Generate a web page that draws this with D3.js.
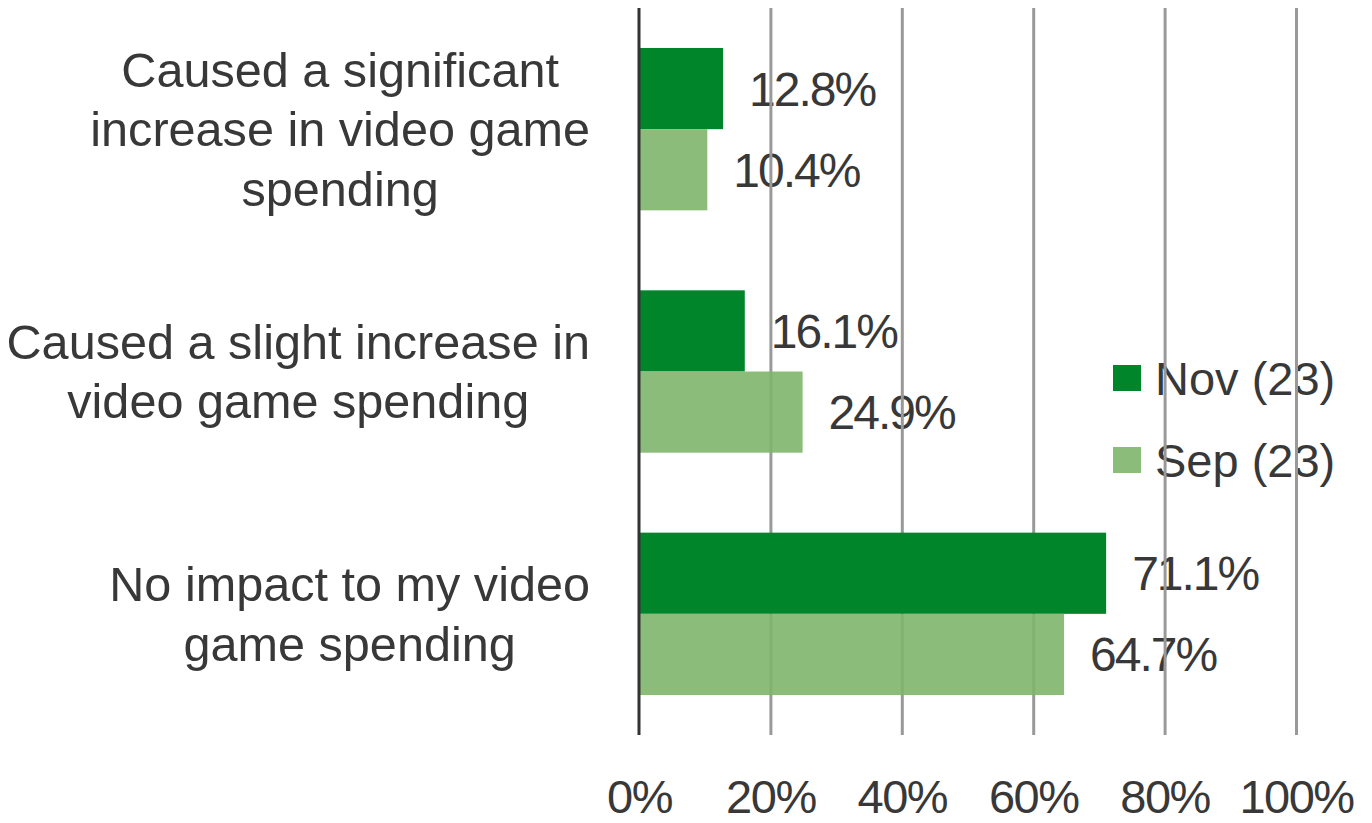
<!DOCTYPE html>
<html>
<head>
<meta charset="utf-8">
<script src="https://cdn.jsdelivr.net/npm/d3@7"></script>
<style>
  body { margin: 0; background: #fff; }
  svg { display: block; font-family: "Liberation Sans", Arial, sans-serif; }
</style>
</head>
<body>
<svg id="chart" width="1372" height="823"></svg>
<script>
var categories = [
    ["Caused a significant", "increase in video game", "spending"],
    ["Caused a slight increase in", "video game spending"],
    ["No impact to my video", "game spending"]
];
var seriesNames = ["Nov (23)", "Sep (23)"];
var novValues = [12.8, 16.1, 71.1];
var sepValues = [10.4, 24.9, 64.7];
var tickValues = [0, 20, 40, 60, 80, 100];

var colors = ["#00852A", "#7FB56A"],
    opac = [1, 0.9],
    textColor = "#383838";

var svg = d3.select("#chart"),
    plotLeft = 639, plotRight = 1296, plotTop = 8, plotBottom = 735;

var x = d3.scaleLinear().domain([0, 100]).range([plotLeft, plotRight]);
var y = d3.scaleBand()
    .domain(d3.range(categories.length))
    .range([plotTop, plotBottom])
    .paddingInner(0.33)
    .paddingOuter(0.165);
var ySub = d3.scaleBand().domain([0, 1]).range([0, y.bandwidth()]);

var rows = d3.range(categories.length).map(i => ({
    i: i, vals: [novValues[i], sepValues[i]]
}));

// category labels: lines centered inside a block right-aligned at 590
var labels = svg.append("g")
rows.forEach(r => {
    var lines = categories[r.i];
    var g = labels.append("g");
    var cy = y(r.i) + y.bandwidth() / 2;
    var t = g.selectAll("text")
        .data(lines)
        .enter().append("text")
        .attr("font-size", 48.6)
        .attr("fill", textColor)
        .attr("text-anchor", "middle")
        .attr("y", (d, j) => cy + (j - (lines.length - 1) / 2) * 59.5 + 17)
        .text(d => d);
    var maxW = d3.max(t.nodes(), n => n.getComputedTextLength());
    t.attr("x", 590 - maxW / 2);
});

// data labels
var dl = svg.append("g")
rows.forEach(r => {
    r.vals.forEach((v, k) => {
        dl.append("text")
            .attr("x", x(v) + 26)
            .attr("y", y(r.i) + ySub(k) + ySub.bandwidth() / 2 + 17)
            .attr("font-size", 48)
            .attr("letter-spacing", -2)
            .attr("fill", textColor)
            .text(v.toFixed(1) + "%");
    });
});

// legend
var legend = svg.append("g")
seriesNames.forEach((s, k) => {
    legend.append("rect")
        .attr("x", 1113).attr("y", 365 + k * 82)
        .attr("width", 28).attr("height", 26)
        .attr("fill", colors[k]).attr("fill-opacity", opac[k]);
    legend.append("text")
        .attr("x", 1155).attr("y", 395 + k * 82)
        .attr("font-size", 47)
        .attr("fill", textColor)
        .text(s);
});

// gridlines + axis
var xAxis = svg.append("g")
    .attr("transform", "translate(0," + plotBottom + ")")
    .call(d3.axisBottom(x).tickValues(tickValues).tickSize(-(plotBottom - plotTop)).tickFormat(d => d + "%"))
    .call(g => {
        g.select(".domain").remove()
        g.selectAll("line").attr("stroke", "#999").attr("stroke-width", 3)
        g.selectAll("text")
            .attr("font-size", 47)
            .attr("font-family", "Liberation Sans, Arial, sans-serif")
            .attr("letter-spacing", -1.5)
            .attr("fill", textColor)
            .attr("dy", null)
            .attr("y", 78)
        g.select(".tick:first-of-type line").remove()
    });

// bars
rows.forEach(r => {
    svg.append("g").selectAll("rect")
        .data(r.vals)
        .enter().append("rect")
        .attr("x", x(0))
        .attr("y", (d, k) => y(r.i) + ySub(k))
        .attr("width", d => x(d) - x(0))
        .attr("height", ySub.bandwidth())
        .attr("fill", (d, k) => colors[k])
        .attr("fill-opacity", (d, k) => opac[k]);
});

svg.append("line")
    .attr("x1", plotLeft).attr("x2", plotLeft)
    .attr("y1", plotTop).attr("y2", plotBottom)
    .attr("stroke", "#333").attr("stroke-width", 3);
</script>
</body>
</html>
